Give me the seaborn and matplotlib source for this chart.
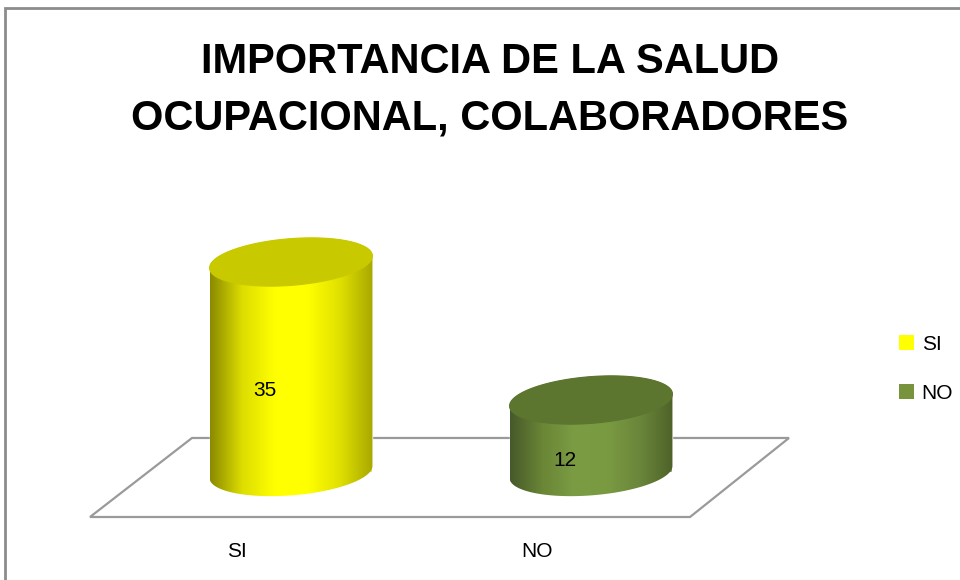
import numpy as np
import matplotlib
matplotlib.use("Agg")
import matplotlib.pyplot as plt
from matplotlib.colors import LinearSegmentedColormap
from matplotlib.patches import Polygon, Patch, Rectangle
from matplotlib.transforms import ScaledTranslation
import seaborn as sns

# data
categories = ["SI", "NO"]
values = [35, 12]
bar_colors = ["#ffff00", "#77933c"]
top_colors = ["#c9c900", "#5c7630"]
side_shades = [
    ["#8a8a00", "#dede00", "#ffff00", "#ffff00", "#e0e000", "#a8a800"],
    ["#46592a", "#6a8636", "#7c9c44", "#7a9a42", "#6a863a", "#4e6229"],
]
title_lines = ["IMPORTANCIA DE LA SALUD", "OCUPACIONAL, COLABORADORES"]

sns.set_style("white")
plt.rcParams["font.family"] = ["Liberation Sans", "DejaVu Sans"]
plt.rcParams["text.color"] = "black"
plt.rcParams["xtick.color"] = "black"

fig = plt.figure(figsize=(9.6, 5.8), dpi=100)
ax = fig.add_axes([81 / 960, 48 / 580, 720 / 960, 360 / 580])

bar_width = 0.543
sns.barplot(x=categories, y=values, hue=categories, palette=bar_colors,
            width=bar_width, legend=False, ax=ax, zorder=2)

ax.set_xlim(-0.7, 1.7)
ax.set_ylim(-10, 50)

# floor (decorative 3D base)
floor = Polygon([(-0.67, -7.5), (1.33, -7.5), (1.66, 5.67), (-0.33, 5.67)],
                closed=True, facecolor="white", edgecolor="#9a9a9a", lw=1.6, zorder=1)
ax.add_patch(floor)

# ellipse parameters (data units)
eb = 3.9   # vertical half-axis
ek = 1.0   # tilt

for i, bar in enumerate(list(ax.patches)):
    if bar is floor:
        continue
    x0 = bar.get_x()
    w = bar.get_width()
    h = bar.get_height()
    cx = x0 + w / 2
    a = w / 2
    t1 = np.linspace(np.pi, 2 * np.pi, 80)
    t2 = np.linspace(0, np.pi, 80)
    bottom = np.column_stack([cx + a * np.cos(t1), eb * np.sin(t1) + ek * np.cos(t1)])
    topfront = np.column_stack([cx + a * np.cos(t2), h + eb * np.sin(t2) + ek * np.cos(t2)])
    body = Polygon(np.vstack([bottom, topfront]), closed=True, facecolor="none",
                   edgecolor="none", zorder=3)
    ax.add_patch(body)
    cmap = LinearSegmentedColormap.from_list("side%d" % i, side_shades[i])
    grad = np.linspace(0, 1, 256)[np.newaxis, :]
    im = ax.imshow(grad, cmap=cmap, extent=(x0, x0 + w, -eb - 2, h + eb + 2),
                   aspect="auto", zorder=3, interpolation="bicubic")
    im.set_clip_path(body)

    t = np.linspace(0, 2 * np.pi, 160)
    top = np.column_stack([cx + a * np.cos(t), h + eb * np.sin(t) + ek * np.cos(t)])
    ax.add_patch(Polygon(top, closed=True, facecolor=top_colors[i],
                         edgecolor=top_colors[i], lw=0.8, zorder=4))

    ax.text(cx - 0.087, h / 2 - 4.0, str(values[i]), ha="center", va="center",
            fontsize=15, color="black", zorder=5)

ax.set_xlim(-0.7, 1.7)
ax.set_ylim(-10, 50)
ax.set_aspect("auto")
sns.despine(ax=ax, left=True, bottom=True)
ax.set_yticks([])
ax.set_xlabel("")
ax.set_ylabel("")
ax.tick_params(axis="x", length=0, pad=7, labelsize=15, labelcolor="black")
shift = ScaledTranslation(-54 / 100, 0, fig.dpi_scale_trans)
for lab in ax.get_xticklabels():
    lab.set_transform(lab.get_transform() + shift)

# title
fig.text(490 / 960, 1 - 62 / 580, title_lines[0], ha="center", va="center",
         fontsize=30, fontweight="bold", color="black")
fig.text(490 / 960, 1 - 118 / 580, title_lines[1], ha="center", va="center",
         fontsize=30, fontweight="bold", color="black")

# legend
handles = [Patch(facecolor=c, edgecolor="none", label=l) for c, l in zip(bar_colors, categories)]
fig.legend(handles=handles, loc="center left", bbox_to_anchor=(880 / 960, 1 - 369 / 580),
           frameon=False, handlelength=0.75, handleheight=0.75, handletextpad=0.35,
           labelspacing=1.45, fontsize=15, labelcolor="black")

# chart border
fig.patches.append(Rectangle((5 / 960, -0.05), 1.2, 1 - 8 / 580 + 0.05, transform=fig.transFigure,
                             fill=False, edgecolor="#8c8c8c", lw=2))

fig.savefig("out.png", dpi=100)
